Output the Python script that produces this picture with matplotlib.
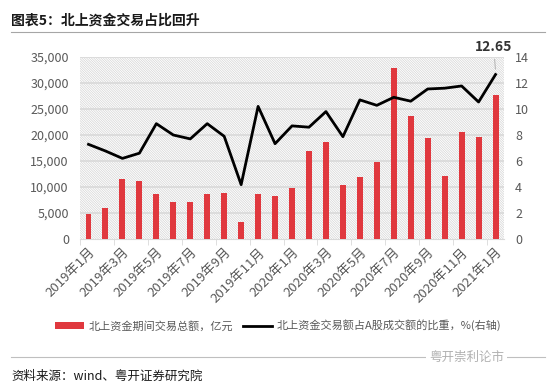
import matplotlib
matplotlib.use("Agg")
import matplotlib.pyplot as plt
from matplotlib.patches import Patch
from matplotlib.lines import Line2D
import numpy as np

plt.rcParams['font.family'] = ['Noto Sans CJK SC', 'DejaVu Sans']
plt.rcParams['hatch.linewidth'] = 0.5
plt.rcParams['hatch.color'] = '#d4d4d4'

months = ["2019年1月", "2019年2月", "2019年3月", "2019年4月", "2019年5月", "2019年6月",
          "2019年7月", "2019年8月", "2019年9月", "2019年10月", "2019年11月", "2019年12月",
          "2020年1月", "2020年2月", "2020年3月", "2020年4月", "2020年5月", "2020年6月",
          "2020年7月", "2020年8月", "2020年9月", "2020年10月", "2020年11月", "2020年12月",
          "2021年1月"]
volume = [4750, 6000, 11500, 11150, 8650, 7050, 7050, 8650, 8850, 3200, 8650, 8270,
          9750, 16900, 18650, 10300, 12000, 14900, 32800, 23650, 19500, 12100, 20600,
          19700, 27600]
ratio = [7.28, 6.77, 6.2, 6.6, 8.87, 8.0, 7.7, 8.87, 7.9, 4.18, 10.2, 7.33,
         8.7, 8.6, 9.8, 7.87, 10.7, 10.28, 10.9, 10.6, 11.54, 11.6, 11.77, 10.54, 12.65]
left_ticks = [0, 5000, 10000, 15000, 20000, 25000, 30000, 35000]
right_ticks = [0, 2, 4, 6, 8, 10, 12, 14]
legend_bar = "北上资金期间交易总额，亿元"
legend_line = "北上资金交易额占A股成交额的比重，%(右轴)"
title = "图表5：北上资金交易占比回升"
source = "资料来源：wind、粤开证券研究院"
watermark = "粤开崇利论市"

fig = plt.figure(figsize=(5.5, 3.84), dpi=100)
ax = fig.add_axes([0.1455, 0.3776, 0.7709, 0.474])
x = np.arange(len(months))
n = len(months)

ax.set_xlim(-0.5, n - 0.5)
ax.set_ylim(0, 35000)
ax.patch.set_facecolor('white')
ax.patch.set_edgecolor('#d4d4d4')
ax.patch.set_linewidth(0)
ax.patch.set_hatch('\\' * 14)
for t in left_ticks[1:]:
    ax.axhline(t, color='#d9d9d9', lw=1.2, zorder=1)
ax.bar(x, volume, width=0.35, color='#e0383e', zorder=3)

for s in ['top', 'right', 'left']:
    ax.spines[s].set_visible(False)
ax.spines['bottom'].set_color('#d9d9d9')
ax.set_yticks(left_ticks)
ax.set_yticklabels([f"{t:,}" for t in left_ticks])
ax.tick_params(axis='y', length=0, labelsize=9, colors='#595959', pad=8)
ax.set_xticks(x[::2])
ax.set_xticklabels(months[::2], rotation=45, ha='right', rotation_mode='anchor',
                   fontsize=9.5, color='#595959')
ax.set_xticks(np.arange(-0.5, n, 2), minor=True)
ax.tick_params(axis='x', which='major', length=0, pad=5)
ax.tick_params(axis='x', which='minor', length=4, color='#d9d9d9')

ax2 = ax.twinx()
ax2.set_ylim(0, 14)
ax2.plot(x, ratio, color='black', lw=2.0, zorder=4)
for s in ['top', 'right', 'left', 'bottom']:
    ax2.spines[s].set_visible(False)
ax2.set_yticks(right_ticks)
ax2.tick_params(axis='y', length=0, labelsize=9, colors='#595959', pad=8)

ax2.annotate(f"{ratio[-1]:.2f}", xy=(x[-1], ratio[-1] + 0.2), xytext=(x[-1] - 0.1, 14.25),
             ha='center', va='bottom', fontsize=10, fontweight='bold', color='#333333',
             arrowprops=dict(arrowstyle='-', color='#a6a6a6', lw=0.6),
             annotation_clip=False)

# title and header line
fig.text(0.02, 0.935, title, fontsize=10, fontweight='bold', color='#1a1a1a')
fig.add_artist(Line2D([0.02, 0.99], [0.916, 0.916], color='#a6a6a6', lw=0.8))

# legend
handles = [Patch(facecolor='#e0383e'), Line2D([0], [0], color='black', lw=2)]
fig.legend(handles, [legend_bar, legend_line], loc='center', bbox_to_anchor=(0.505, 0.152),
           ncol=2, frameon=False, fontsize=8, handlelength=2.6, handleheight=0.6,
           handletextpad=0.4, columnspacing=0.9, labelcolor='#595959')

# footer
fig.add_artist(Line2D([0.02, 0.99], [0.07, 0.07], color='#bfbfbf', lw=0.8))
fig.text(0.02, 0.012, source, fontsize=9, style='italic', color='#1a1a1a')
fig.text(0.78, 0.07, watermark, fontsize=9, color='#b0b0b0', va='center',
         bbox=dict(facecolor='white', edgecolor='none', pad=2))

fig.savefig('out.png', dpi=100)
